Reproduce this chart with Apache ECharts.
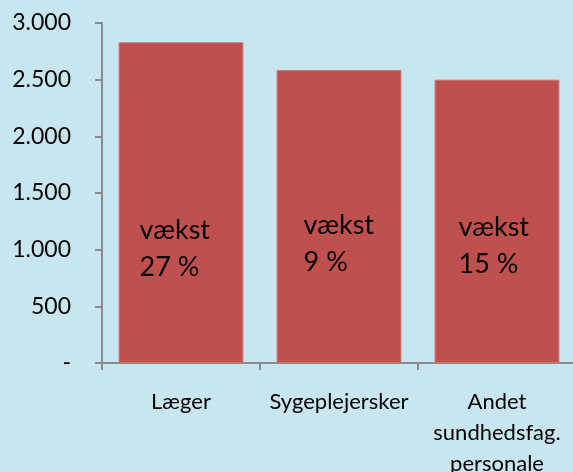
<!DOCTYPE html>
<html>
<head>
<meta charset="utf-8">
<script src="https://cdn.jsdelivr.net/npm/echarts@6/dist/echarts.min.js"></script>
<style>
  html, body { margin: 0; padding: 0; background: #c7e6ef; }
  #chart { width: 573px; height: 472px; }
</style>
</head>
<body>
<div id="chart"></div>
<script>
var categories = ['Læger', 'Sygeplejersker', 'Andet\nsundhedsfag.\npersonale'];
var values = [2830, 2585, 2500];
var growth = ['27 %', '9 %', '15 %'];

// label placement inside each bar (px from bar's bottom-left)
var labelOffsets = [[21, -77], [27, -82], [24, -80]];

var chart = echarts.init(document.getElementById('chart'));

var data = values.map(function (v, i) {
    return {
        value: v,
        label: { offset: labelOffsets[i], formatter: 'vækst\n' + growth[i] }
    };
});

chart.setOption({
    backgroundColor: '#c7e6ef',
    animation: false,
    grid: { left: 102, right: -3, top: 23, bottom: 109, outerBoundsMode: 'none', containLabel: false },
    xAxis: {
        type: 'category',
        data: categories,
        axisLine: { lineStyle: { color: '#8a8a8a', width: 2 } },
        axisTick: { show: true, length: 7, alignWithLabel: false, lineStyle: { color: '#8a8a8a', width: 2 } },
        axisLabel: {
            interval: 0,
            margin: 23,
            fontFamily: 'Lato',
            fontSize: 22,
            lineHeight: 31,
            color: '#000'
        }
    },
    yAxis: {
        type: 'value',
        min: 0,
        max: 3000,
        interval: 500,
        splitLine: { show: false },
        axisLine: { show: true, lineStyle: { color: '#8a8a8a', width: 2 } },
        axisTick: { show: true, length: 7, lineStyle: { color: '#8a8a8a', width: 2 } },
        axisLabel: {
            margin: 31,
            fontFamily: 'Lato',
            fontSize: 23,
            color: '#000',
            formatter: function (v) {
                if (v === 0) return '-';
                return String(v).replace(/\B(?=(\d{3})+(?!\d))/g, '.');
            }
        }
    },
    series: [{
        type: 'bar',
        data: data,
        barWidth: '79%',
        itemStyle: { color: '#c0504d', borderColor: '#cd7472', borderWidth: 1 },
        label: {
            show: true,
            position: 'insideBottomLeft',
            distance: 0,
            align: 'left',
            fontFamily: 'Lato',
            fontSize: 27,
            lineHeight: 37,
            color: '#000'
        }
    }]
});
</script>
</body>
</html>
